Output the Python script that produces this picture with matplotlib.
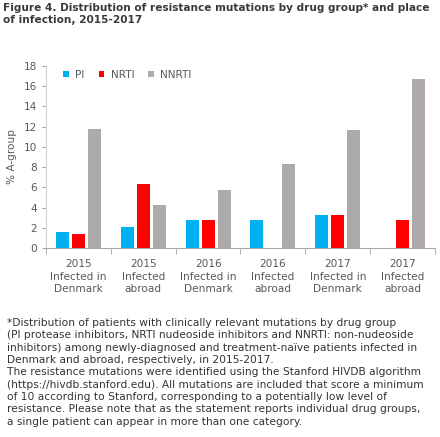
import matplotlib.pyplot as plt
import numpy as np

# Data (% A-group)
groups = ['2015\nInfected in\nDenmark', '2015\nInfected\nabroad',
          '2016\nInfected in\nDenmark', '2016\nInfected\nabroad',
          '2017\nInfected in\nDenmark', '2017\nInfected\nabroad']
pi = [1.6, 2.1, 2.8, 2.8, 3.3, 0]
nrti = [1.4, 6.3, 2.8, 0, 3.3, 2.8]
nnrti = [11.8, 4.3, 5.7, 8.3, 11.7, 16.7]
yticks = [0, 2, 4, 6, 8, 10, 12, 14, 16, 18]

title = 'Figure 4. Distribution of resistance mutations by drug group* and place\nof infection, 2015-2017'
note = ('*Distribution of patients with clinically relevant mutations by drug group\n'
        '(PI protease inhibitors, NRTI nudeoside inhibitors and NNRTI: non-nudeoside\n'
        'inhibitors) among newly-diagnosed and treatment-naïve patients infected in\n'
        'Denmark and abroad, respectively, in 2015-2017.\n'
        'The resistance mutations were identified using the Stanford HIVDB algorithm\n'
        '(https://hivdb.stanford.edu). All mutations are included that score a minimum\n'
        'of 10 according to Stanford, corresponding to a potentially low level of\n'
        'resistance. Please note that as the statement reports individual drug groups,\n'
        'a single patient can appear in more than one category.')

txt = '#595959'
axis_col = '#A6A6A6'
fig = plt.figure(figsize=(4.4, 4.37), dpi=100)
ax = fig.add_axes([46/440, 1-248.3/437, 389/440, 182.6/437])

x = np.arange(len(groups))
w = 0.2
step = 0.246
ax.bar(x - step, pi, w, color='#00B0F0', label='PI')
ax.bar(x, nrti, w, color='#FF0000', label='NRTI')
ax.bar(x + step, nnrti, w, color='#AEAAAA', label='NNRTI')

ax.set_xlim(-0.5, len(groups) - 0.5)
ax.set_ylim(0, 18)
ax.set_yticks(yticks)
ax.set_xticks(x)
ax.set_xticklabels(groups, fontsize=7.6, color=txt, linespacing=1.3)
ax.set_xticks(np.arange(len(groups) + 1) - 0.5, minor=True)
ax.tick_params(axis='x', which='major', length=0, pad=8)
ax.tick_params(axis='x', which='minor', length=4, color=axis_col)
ax.tick_params(axis='y', labelsize=7.6, labelcolor=txt, length=3, color=axis_col)
ax.set_ylabel('% A-group', fontsize=7.6, color=txt, labelpad=5)

for s in ['top', 'right']:
    ax.spines[s].set_visible(False)
ax.spines['bottom'].set_color(axis_col)
ax.spines['left'].set_color('#D0D0D0')

ax.legend(loc='upper left', bbox_to_anchor=(0.02, 1.03), ncol=3, frameon=False,
          fontsize=7.6, handlelength=0.55, handleheight=0.6, columnspacing=1.3,
          handletextpad=0.6, labelcolor=txt)

fig.text(3/440, 1-3/437, title, fontsize=7.6, fontweight='bold', color='#3a3a3a',
         va='top', ha='left', linespacing=1.2)
fig.text(7/440, 1-318/437, note, fontsize=7.7, color='#333333',
         va='top', ha='left', linespacing=1.29)

fig.savefig('out.png', dpi=100)
